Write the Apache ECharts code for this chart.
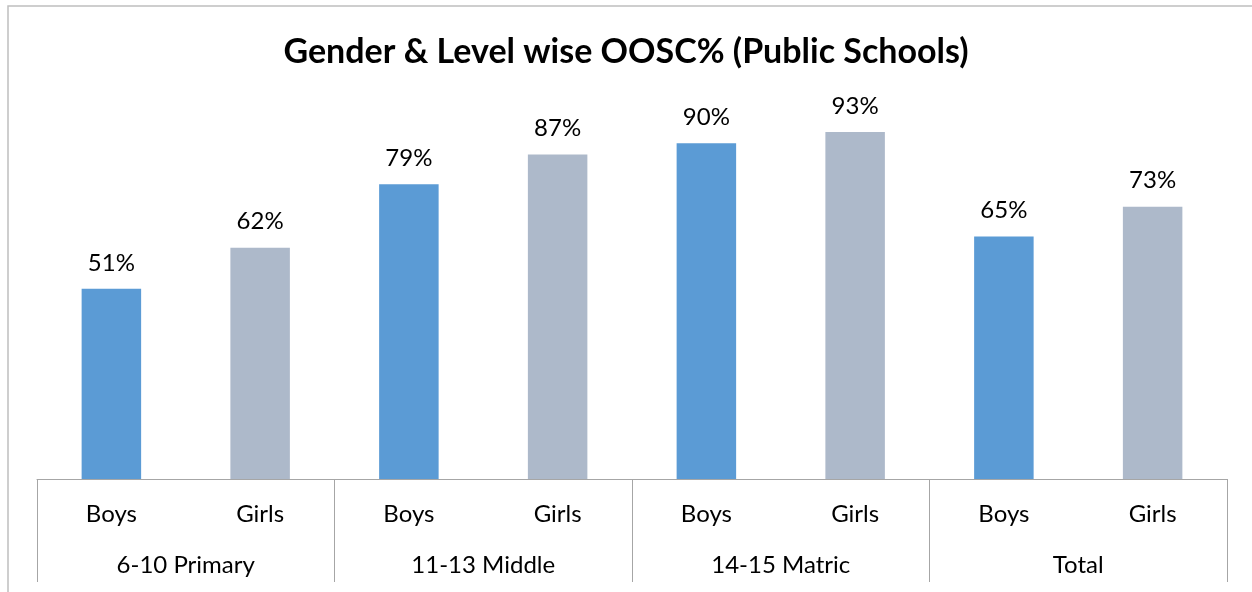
<!DOCTYPE html>
<html>
<head>
<meta charset="utf-8">
<script src="https://cdn.jsdelivr.net/npm/echarts@6/dist/echarts.min.js"></script>
<style>
  html, body { margin: 0; padding: 0; background: #fff; }
  #chart { width: 1252px; height: 592px; }
</style>
</head>
<body>
<div id="chart"></div>
<script>
  const levels = ['6-10 Primary', '11-13 Middle', '14-15 Matric', 'Total'];
  const genders = ['Boys', 'Girls', 'Boys', 'Girls', 'Boys', 'Girls', 'Boys', 'Girls'];
  const values = [51, 62, 79, 87, 90, 93, 65, 73];
  const colors = { Boys: '#5B9BD5', Girls: '#ADB9CA' };

  const font = 'Lato, "Noto Sans", sans-serif';
  const lineColor = '#A6A6A6';

  const chart = echarts.init(document.getElementById('chart'));
  chart.setOption({
    animation: false,
    title: {
      text: 'Gender & Level wise OOSC% (Public Schools)',
      left: 'center',
      top: 30,
      textStyle: { fontFamily: font, fontSize: 34, fontWeight: 'bold', color: '#000' }
    },
    graphic: [{
      type: 'rect',
      shape: { x: 8, y: 6, width: 1300, height: 700 },
      style: { fill: 'none', stroke: '#BFBFBF', lineWidth: 1.5 }
    }],
    grid: { left: 37, right: 25, top: 106, bottom: 113 },
    xAxis: [{
      type: 'category',
      data: genders,
      axisLine: { show: true, lineStyle: { color: lineColor, width: 1 } },
      axisTick: { show: false },
      axisLabel: { interval: 0, margin: 23, fontFamily: font, fontSize: 24, color: '#000' }
    }, {
      type: 'category',
      data: levels,
      position: 'bottom',
      axisLine: { show: false },
      axisTick: { show: true, length: 103, interval: 0, lineStyle: { color: lineColor, width: 1 } },
      axisLabel: { interval: 0, margin: 74, fontFamily: font, fontSize: 24, color: '#000' }
    }],
    yAxis: {
      type: 'value',
      min: 0,
      max: 100,
      show: false,
      splitLine: { show: false }
    },
    series: [{
      type: 'bar',
      xAxisIndex: 0,
      barWidth: '40%',
      data: values.map((v, i) => ({ value: v, itemStyle: { color: colors[genders[i]] } })),
      label: {
        show: true,
        position: 'top',
        distance: 14,
        formatter: '{c}%',
        fontFamily: font,
        fontSize: 24,
        color: '#000'
      }
    }]
  });
</script>
</body>
</html>
